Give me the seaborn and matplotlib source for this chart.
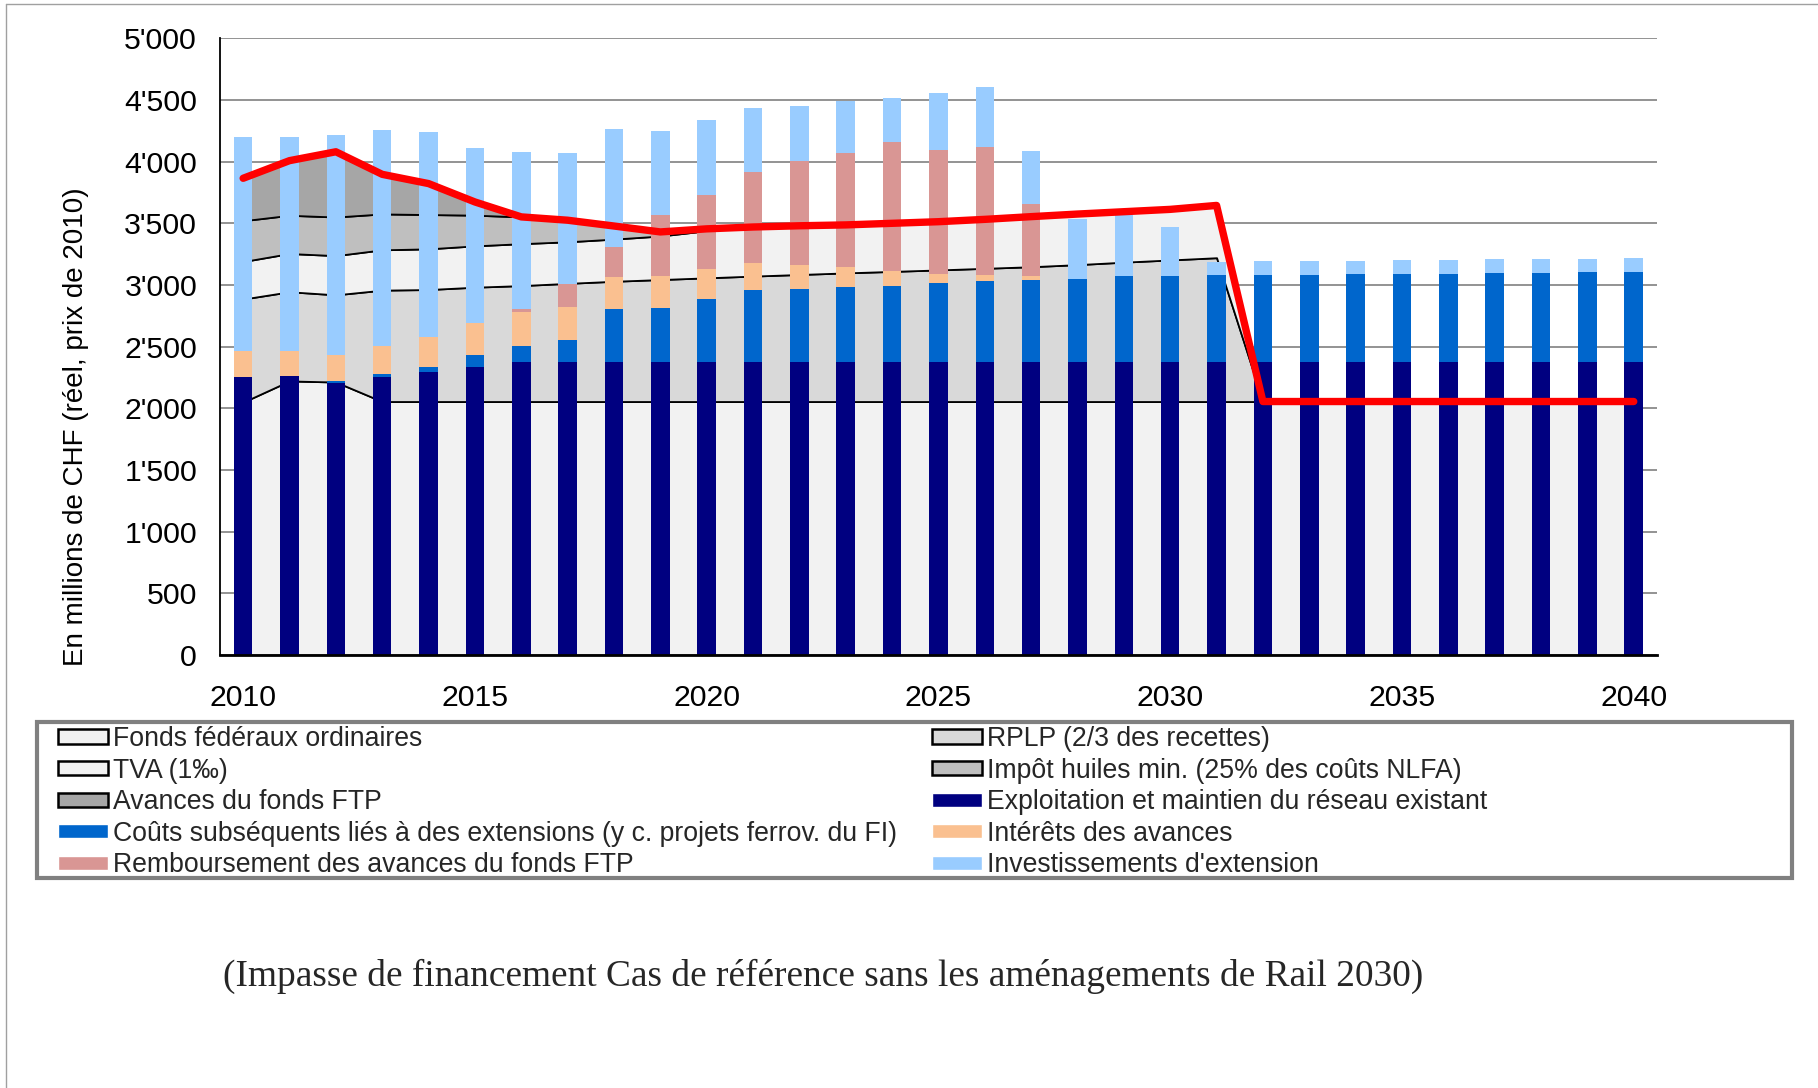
import numpy as np
import matplotlib
matplotlib.use("Agg")
import matplotlib.pyplot as plt
from matplotlib.patches import Patch, Rectangle
from matplotlib.lines import Line2D
from matplotlib.ticker import FuncFormatter
import seaborn as sns

years = list(range(2010, 2041))

# sources de financement (surfaces empilees)
fonds_federaux = [2050, 2222, 2213, 2055, 2055, 2055, 2055, 2055, 2055, 2055, 2055,
                  2055, 2055, 2055, 2055, 2055, 2055, 2055, 2055, 2055, 2055,
                  2055, 2055, 2055, 2055, 2055, 2055, 2055, 2055, 2055, 2055]
rplp = [836, 723, 707, 903, 908, 927, 940, 958, 975, 989, 1003,
        1017, 1030, 1043, 1055, 1067, 1080, 1093, 1110, 1130, 1148,
        1166, 0, 0, 0, 0, 0, 0, 0, 0, 0]
tva = [304, 310, 318, 327, 330, 335, 340, 337, 342, 353, 382,
       398, 395, 389, 390, 391, 397, 406, 410, 409, 410,
       424, 0, 0, 0, 0, 0, 0, 0, 0, 0]
impot_huiles = [331, 310, 313, 291, 278, 249, 217, 175, 106, 33, 15,
                0, 0, 0, 0, 0, 0, 0, 0, 0, 0,
                0, 0, 0, 0, 0, 0, 0, 0, 0, 0]
avances_ftp = [344, 443, 529, 321, 251, 107, 0, 0, 0, 0, 0,
               0, 0, 0, 0, 0, 0, 0, 0, 0, 0,
               0, 0, 0, 0, 0, 0, 0, 0, 0, 0]

# besoins (barres empilees)
exploitation = [2256, 2265, 2208, 2254, 2297, 2337, 2375, 2375, 2375, 2375, 2375,
                2375, 2375, 2375, 2375, 2375, 2375, 2375, 2375, 2375, 2375,
                2375, 2375, 2375, 2375, 2375, 2375, 2375, 2375, 2375, 2375]
couts_subs = [0, 0, 15, 21, 35, 92, 132, 181, 427, 441, 509,
              582, 590, 611, 617, 638, 660, 665, 671, 698, 700,
              703, 706, 709, 714, 714, 717, 722, 725, 728, 733]
interets = [206, 199, 206, 232, 243, 259, 270, 265, 263, 257, 243,
            224, 200, 157, 119, 79, 46, 33, 0, 0, 0,
            0, 0, 0, 0, 0, 0, 0, 0, 0, 0]
remboursement = [0, 0, 0, 0, 0, 0, 27, 183, 241, 494, 602,
                 735, 840, 930, 1046, 1005, 1038, 581, 0, 0, 0,
                 0, 0, 0, 0, 0, 0, 0, 0, 0, 0]
investissements = [1738, 1736, 1790, 1752, 1663, 1423, 1272, 1066, 956, 684, 611,
                   519, 449, 419, 359, 460, 489, 432, 489, 494, 392,
                   108, 111, 110, 108, 114, 109, 111, 111, 110, 111]

area_labels = ["Fonds fédéraux ordinaires", "RPLP (2/3 des recettes)", "TVA (1‰)",
               "Impôt huiles min. (25% des coûts NLFA)", "Avances du fonds FTP"]
area_colors = ["#f2f2f2", "#d9d9d9", "#f2f2f2", "#bfbfbf", "#a6a6a6"]
bar_labels = ["Exploitation et maintien du réseau existant",
              "Coûts subséquents liés à des extensions (y c. projets ferrov. du FI)",
              "Intérêts des avances", "Remboursement des avances du fonds FTP",
              "Investissements d'extension"]
bar_colors = ["#000080", "#0066cc", "#fac090", "#d99694", "#99ccff"]

sns.set_theme(style="white")
plt.rcParams["font.family"] = ["Liberation Sans", "DejaVu Sans"]

fig = plt.figure(figsize=(18.18, 10.88), dpi=100)
ax = fig.add_axes([0.121, 0.398, 0.7904, 0.5668])

x = np.array(years)
areas = [fonds_federaux, rplp, tva, impot_huiles, avances_ftp]
ax.stackplot(x, *areas, colors=area_colors, edgecolor="black", linewidth=1.3, zorder=2)

bottom = np.zeros(len(years))
for vals, col in zip([exploitation, couts_subs, interets, remboursement, investissements], bar_colors):
    ax.bar(x, vals, bottom=bottom, width=0.4, color=col, linewidth=0, zorder=3)
    bottom += np.array(vals)

# total des sources = ligne rouge
total = np.sum(np.array(areas), axis=0)
sns.lineplot(x=x, y=total, color="#ff0000", linewidth=5.3, ax=ax, zorder=4,
             solid_capstyle="round", solid_joinstyle="round")

ax.set_xlim(2009.5, 2040.5)
ax.set_ylim(0, 5000)
ax.set_yticks(range(0, 5001, 500))
ax.yaxis.set_major_formatter(FuncFormatter(lambda v, p: f"{int(v):,}".replace(",", "'")))
ax.set_xticks([2010, 2015, 2020, 2025, 2030, 2035, 2040])
ax.tick_params(axis="both", length=0, labelsize=21.8, colors="black")
ax.tick_params(axis="y", pad=16.5)
ax.tick_params(axis="x", pad=21)
ax.grid(axis="y", color="#808080", linewidth=1.2, zorder=0)
ax.set_axisbelow(True)
for s in ["top", "right"]:
    ax.spines[s].set_visible(False)
ax.spines["left"].set_color("black")
ax.spines["left"].set_linewidth(1.3)
ax.spines["bottom"].set_color("black")
ax.spines["bottom"].set_linewidth(2)
ax.spines["bottom"].set_zorder(5)

ax.set_ylabel("En millions de CHF (réel, prix de 2010)", fontsize=20, color="black")
ax.yaxis.label.set_verticalalignment("center")
ax.yaxis.set_label_coords(-0.100, 0.371)

handles = [
    Patch(facecolor=area_colors[0], edgecolor="black", linewidth=1.8, label=area_labels[0]),
    Patch(facecolor=area_colors[2], edgecolor="black", linewidth=1.8, label=area_labels[2]),
    Patch(facecolor=area_colors[4], edgecolor="black", linewidth=1.8, label=area_labels[4]),
    Patch(facecolor=bar_colors[1], label=bar_labels[1]),
    Patch(facecolor=bar_colors[3], label=bar_labels[3]),
    Patch(facecolor=area_colors[1], edgecolor="black", linewidth=1.8, label=area_labels[1]),
    Patch(facecolor=area_colors[3], edgecolor="black", linewidth=1.8, label=area_labels[3]),
    Patch(facecolor=bar_colors[0], label=bar_labels[0]),
    Patch(facecolor=bar_colors[2], label=bar_labels[2]),
    Patch(facecolor=bar_colors[4], label=bar_labels[4]),
]
leg = fig.legend(handles=handles, ncol=2, loc="upper left",
                 bbox_to_anchor=(58 / 1818, 0.3327),
                 fontsize=19.2, frameon=False, borderaxespad=0, borderpad=0,
                 handlelength=1.87, handleheight=0.45, handletextpad=0.2,
                 labelspacing=0.21, columnspacing=1.3)

# cadre de la legende
fig.add_artist(Rectangle((37 / 1818, 1 - 878 / 1088), 1755 / 1818, 156 / 1088,
                         transform=fig.transFigure, fill=False,
                         edgecolor="#808080", linewidth=3))

fig.text(823 / 1818, 1 - 976 / 1088,
         "(Impasse de financement Cas de référence sans les aménagements de Rail 2030)",
         family=["Liberation Serif", "DejaVu Serif"], fontsize=26.9, ha="center", va="center")

fig.add_artist(Line2D([6 / 1818, 6 / 1818], [0, 1 - 4 / 1088], transform=fig.transFigure,
                      color="#a0a0a0", linewidth=1))
fig.add_artist(Line2D([6 / 1818, 1], [1 - 4 / 1088, 1 - 4 / 1088], transform=fig.transFigure,
                      color="#a0a0a0", linewidth=1))

fig.savefig("out.png", dpi=100, facecolor="white")
